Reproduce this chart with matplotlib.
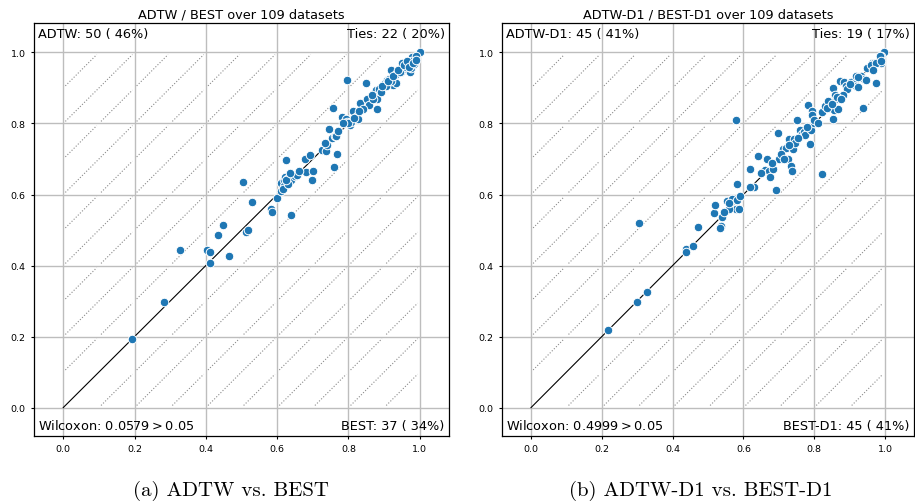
import numpy as np
import matplotlib
matplotlib.use("Agg")
import matplotlib.pyplot as plt

# ---------------- data (x = BEST accuracy, y = ADTW accuracy) ----------------
titles = ["ADTW / BEST over 109 datasets", "ADTW-D1 / BEST-D1 over 109 datasets"]
captions = ["(a) ADTW vs. BEST", "(b) ADTW-D1 vs. BEST-D1"]
upper_left = ["ADTW: 50 ( 46%)", "ADTW-D1: 45 ( 41%)"]
upper_right = ["Ties: 22 ( 20%)", "Ties: 19 ( 17%)"]
lower_left = ["Wilcoxon: 0.0579$>$0.05", "Wilcoxon: 0.4999$>$0.05"]
lower_right = ["BEST: 37 ( 34%)", "BEST-D1: 45 ( 41%)"]
tick_values = [0.0, 0.2, 0.4, 0.6, 0.8, 1.0]
tick_labels = ["0.0", "0.2", "0.4", "0.6", "0.8", "1.0"]

best_a = [0.192, 0.282, 0.327, 0.402, 0.413, 0.411, 0.433, 0.449, 0.464, 0.503,
          0.514, 0.519, 0.530, 0.584, 0.585, 0.599, 0.640, 0.611, 0.612, 0.620,
          0.622, 0.628, 0.640, 0.649, 0.624, 0.618, 0.682, 0.700, 0.699, 0.679,
          0.693, 0.725, 0.738, 0.759, 0.769, 0.745, 0.755, 0.761, 0.756, 0.781,
          0.792, 0.796, 0.803, 0.808, 0.812, 0.824, 0.826, 0.796, 0.833, 0.850,
          0.853, 0.859, 0.880, 0.873, 0.878, 0.885, 0.876, 0.880, 0.903, 0.908,
          0.912, 0.915, 0.920, 0.934, 0.926, 0.934, 0.948, 0.951, 0.957, 0.962,
          0.968, 0.972, 0.976, 0.979, 1.000, 0.985,
          0.615, 0.630, 0.655, 0.740, 0.765, 0.800, 0.815, 0.840, 0.870, 0.890,
          0.905, 0.920, 0.945, 0.960, 0.975, 0.990,
          0.625, 0.635, 0.660, 0.735, 0.770, 0.785, 0.830, 0.865, 0.895, 0.910,
          0.925, 0.940, 0.955, 0.965, 0.970, 0.980, 0.990]
adtw_a = [0.192, 0.296, 0.443, 0.443, 0.438, 0.406, 0.486, 0.514, 0.427, 0.636,
          0.494, 0.500, 0.579, 0.559, 0.552, 0.590, 0.541, 0.611, 0.632, 0.640,
          0.650, 0.645, 0.640, 0.652, 0.696, 0.625, 0.664, 0.666, 0.640, 0.701,
          0.711, 0.725, 0.723, 0.678, 0.713, 0.784, 0.760, 0.765, 0.845, 0.817,
          0.814, 0.805, 0.795, 0.803, 0.835, 0.820, 0.812, 0.923, 0.857, 0.915,
          0.868, 0.851, 0.840, 0.887, 0.895, 0.898, 0.873, 0.868, 0.915, 0.922,
          0.910, 0.925, 0.951, 0.939, 0.908, 0.913, 0.944, 0.969, 0.955, 0.962,
          0.950, 0.945, 0.955, 0.986, 1.000, 0.967,
          0.615, 0.630, 0.655, 0.740, 0.765, 0.800, 0.815, 0.840, 0.870, 0.890,
          0.905, 0.920, 0.945, 0.960, 0.975, 0.990,
          0.640, 0.660, 0.665, 0.745, 0.780, 0.800, 0.835, 0.880, 0.905, 0.920,
          0.935, 0.950, 0.965, 0.975, 0.960, 0.970, 0.980]

best_b = [0.217, 0.298, 0.329, 0.304, 0.438, 0.438, 0.457, 0.473, 0.517, 0.520,
          0.539, 0.537, 0.535, 0.555, 0.569, 0.583, 0.580, 0.587, 0.583, 0.578,
          0.618, 0.631, 0.641, 0.667, 0.662, 0.672, 0.676, 0.685, 0.692, 0.697,
          0.700, 0.713, 0.720, 0.725, 0.735, 0.737, 0.741, 0.730, 0.744, 0.751,
          0.760, 0.765, 0.770, 0.775, 0.788, 0.791, 0.783, 0.793, 0.795, 0.821,
          0.821, 0.830, 0.840, 0.842, 0.852, 0.852, 0.855, 0.868, 0.858, 0.862,
          0.872, 0.884, 0.891, 0.893, 0.905, 0.914, 0.918, 0.923, 0.917, 0.933,
          0.940, 0.945, 0.938, 0.975, 0.963, 0.970, 0.988, 0.998,
          0.560, 0.620, 0.745, 0.800, 0.880, 0.955, 0.990,
          0.545, 0.560, 0.590, 0.650, 0.680, 0.705, 0.715, 0.730, 0.755, 0.780,
          0.800, 0.810, 0.835, 0.850, 0.865, 0.875, 0.900, 0.925, 0.950, 0.960,
          0.975, 0.985, 0.990, 0.965]
adtw_b = [0.218, 0.297, 0.325, 0.520, 0.446, 0.437, 0.454, 0.509, 0.547, 0.570,
          0.537, 0.512, 0.507, 0.582, 0.587, 0.585, 0.560, 0.559, 0.631, 0.809,
          0.673, 0.620, 0.709, 0.699, 0.670, 0.667, 0.650, 0.671, 0.612, 0.772,
          0.700, 0.728, 0.732, 0.701, 0.680, 0.666, 0.728, 0.756, 0.756, 0.810,
          0.782, 0.770, 0.775, 0.768, 0.742, 0.782, 0.852, 0.835, 0.823, 0.657,
          0.833, 0.850, 0.862, 0.845, 0.812, 0.899, 0.838, 0.842, 0.880, 0.868,
          0.920, 0.918, 0.906, 0.897, 0.918, 0.913, 0.905, 0.903, 0.934, 0.934,
          0.925, 0.922, 0.843, 0.914, 0.970, 0.969, 0.970, 1.000,
          0.560, 0.620, 0.745, 0.800, 0.880, 0.955, 0.990,
          0.550, 0.575, 0.595, 0.660, 0.690, 0.715, 0.700, 0.740, 0.760, 0.790,
          0.810, 0.800, 0.845, 0.855, 0.875, 0.870, 0.910, 0.930, 0.955, 0.965,
          0.970, 0.990, 0.975, 0.950]

series = [(best_a, adtw_a), (best_b, adtw_b)]

# ---------------- figure ----------------
fig = plt.figure(figsize=(9.15, 5.02), dpi=100)
axes_rects = [[34 / 915, 1 - 437 / 502, 415 / 915, 413 / 502],
              [502 / 915, 1 - 437 / 502, 412 / 915, 413 / 502]]
caption_x = [231 / 915, 701 / 915]

FS = 9.3
cell = 0.2
eps = 0.006

def draw_guides(ax):
    # dotted lines parallel to the diagonal, drawn cell by cell
    for k in range(-9, 10):
        if k == 0:
            continue
        c = k * 0.1
        x0, x1 = max(0.0, -c), min(1.0, 1.0 - c)
        bps = set([round(x0, 6), round(x1, 6)])
        for g in np.arange(0, 1.0001, cell):
            if x0 < g < x1:
                bps.add(round(g, 6))
            xg = g - c
            if x0 < xg < x1:
                bps.add(round(xg, 6))
        bps = sorted(bps)
        for a, b in zip(bps[:-1], bps[1:]):
            if b - a < 1e-6:
                continue
            xs = [a + eps, b - eps]
            ax.plot(xs, [v + c for v in xs], linestyle=":", color="#8a8a8a",
                    lw=0.8, zorder=1)
    ax.plot([0, 1], [0, 1], color="black", lw=0.8, zorder=2)

for i, (bx, ay) in enumerate(series):
    ax = fig.add_axes(axes_rects[i])
    ax.set_xlim(-0.082, 1.082)
    ax.set_ylim(-0.08, 1.083)
    ax.set_xticks(tick_values)
    ax.set_xticklabels(tick_labels)
    ax.set_yticks(tick_values)
    ax.set_yticklabels(tick_labels)
    ax.tick_params(labelsize=6.8, length=2.5, width=0.8)
    ax.grid(True, color="#bdbdbd", lw=1.0, zorder=0)
    ax.set_axisbelow(True)
    draw_guides(ax)
    ax.scatter(bx, ay, s=38, c="#1f77b4", edgecolors="white", linewidths=0.7, zorder=3)
    ax.set_title(titles[i], fontsize=FS, pad=4)
    kw = dict(xycoords="axes fraction", textcoords="offset points", fontsize=FS)
    ax.annotate(upper_left[i], xy=(0, 1), xytext=(3, -3), ha="left", va="top", **kw)
    ax.annotate(upper_right[i], xy=(1, 1), xytext=(-3, -3), ha="right", va="top", **kw)
    ax.annotate(lower_left[i], xy=(0, 0), xytext=(3, 3), ha="left", va="bottom", **kw)
    ax.annotate(lower_right[i], xy=(1, 0), xytext=(-3, 3), ha="right", va="bottom", **kw)
    for sp in ax.spines.values():
        sp.set_linewidth(0.9)
    fig.text(caption_x[i], 1 - 490.7 / 502, captions[i], ha="center", va="center",
             fontsize=15, fontfamily="cmr10")

fig.savefig("out.png", dpi=100)
